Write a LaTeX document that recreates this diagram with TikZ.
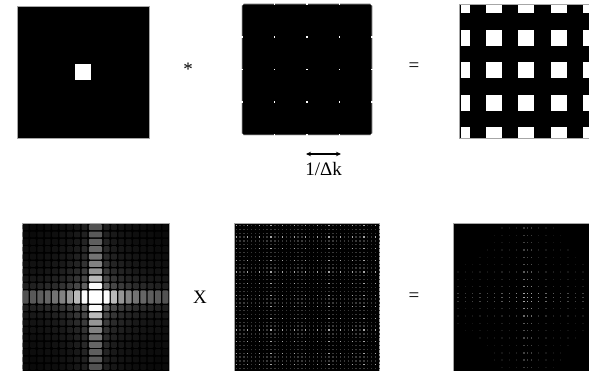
\documentclass[tikz,border=0pt]{standalone}
\usepackage{fontspec}
\setmainfont{Liberation Serif}
\usepackage{tikz}
\usetikzlibrary{arrows.meta, positioning}
\usepackage{xcolor}

\begin{document}
\begin{tikzpicture}[x=1pt, y=-1pt,
    panel/.style={draw=gray!70, line width=0.6pt, fill=black, rectangle, inner sep=0pt, outer sep=0pt},
    oper/.style={font=\fontsize{19}{21}\selectfont, inner sep=0pt},
    spot/.style={fill=white, inner sep=0pt, minimum size=1.8pt, rectangle}]
  \useasboundingbox (0,0) rectangle (589,371);

  % Box A (top left): a single square
  \node[panel, minimum width=132pt, minimum height=132pt] (sq) at (83,72) {};
  \node[fill=white, inner sep=0pt, minimum size=16pt] (hole) at (sq.center) {};

  % Box B (top middle): comb of delta points
  \node[panel, rounded corners=2pt, minimum width=130pt, minimum height=131pt] (comb) at (307,69.5) {};
  \foreach \m in {0,...,4}
    \foreach \n in {0,...,4}
      \node[spot] (c\m\n) at (242+32.5*\m, 4+32.75*\n) {};

  % spacing arrow under the comb
  \coordinate (dkL) at (306,154);
  \coordinate (dkR) at (341,154);
  \draw[{Stealth[length=5pt,width=4.5pt]}-{Stealth[length=5pt,width=4.5pt]}, line width=1.2pt] (dkL) -- (dkR);
  \node[oper, below=8pt of dkL, xshift=17.5pt] (dk) {1/Δk};

  % Box C (top right): squares repeated on the comb
  \node[panel, minimum width=132pt, minimum height=134pt, anchor=north west] (rep) at (459.5,4) {};
  \begin{scope}
    \clip (461,5.5) rectangle (590,137.5);
    \foreach \m in {0,...,4}
      \foreach \n in {0,...,4}
        \fill[white] (453.5+32.4*\m,-2.5+32.5*\n) rectangle ++(16,16);
  \end{scope}

  % operators, top row
  \node[oper] (conv) at (188,69) {*};
  \node[oper] (eq1) at (414,67) {=};

  % Box D (bottom left): sinc lobes of the square
  \node[panel, minimum width=147pt, minimum height=148pt, anchor=north west] (sinc) at (22,223) {};
  \foreach \i in {-9,...,9} {
    \foreach \j in {-9,...,9} {
      \pgfmathsetmacro\ai{ifthenelse(\i==0,1,1/(pi*(abs(\i)+0.5)))}
      \pgfmathsetmacro\aj{ifthenelse(\j==0,1,1/(pi*(abs(\j)+0.5)))}
      \pgfmathtruncatemacro\lv{100*min(1,2.5*(\ai*\aj)^0.6)}
      \pgfmathsetmacro\cx{95.5+(abs(\i)+0.5)*7.35*\i/max(abs(\i),1)}
      \pgfmathsetmacro\cy{297+(abs(\j)+0.5)*7.35*\j/max(abs(\j),1)}
      \pgfmathsetmacro\hx{ifthenelse(\i==0,7.35,3.675)-0.7}
      \pgfmathsetmacro\hy{ifthenelse(\j==0,7.35,3.675)-0.7}
      \ifnum\lv>2
        \fill[white!\lv!black, rounded corners=1pt] (\cx-\hx,\cy-\hy) rectangle (\cx+\hx,\cy+\hy);
      \fi
    }
  }

  % Box E (bottom middle): lattice of sample points
  \node[panel, minimum width=145pt, minimum height=148pt, anchor=north west] (lat) at (234,223) {};
  \foreach \k in {0,...,37}
    \draw[white!22!black, line width=1.3pt, dash pattern=on 1.3pt off 2.57pt] (235.5,225.5+3.87*\k) -- (379,225.5+3.87*\k);
  \foreach \k in {0,3,...,36}
    \draw[white!65!black, line width=1.3pt, dash pattern=on 1.3pt off 10.31pt] (235.5,225.5+3.87*\k) -- (379,225.5+3.87*\k);

  % Box F (bottom right): sampled lobes
  \node[panel, minimum width=150pt, minimum height=148pt, anchor=north west] (samp) at (453,223) {};
  \begin{scope}
    \clip (454,224) rectangle (590,371);
    \foreach \i in {-9,...,9} {
      \foreach \j in {-9,...,9} {
        \pgfmathsetmacro\ai{ifthenelse(\i==0,1,1/(pi*(abs(\i)+0.5)))}
        \pgfmathsetmacro\aj{ifthenelse(\j==0,1,1/(pi*(abs(\j)+0.5)))}
        \pgfmathtruncatemacro\lv{65*min(1,1.6*(\ai*\aj)^0.45)}
        \pgfmathsetmacro\cx{527.7+(abs(\i)+0.5)*7.35*\i/max(abs(\i),1)}
        \pgfmathsetmacro\cy{297.7+(abs(\j)+0.5)*7.35*\j/max(abs(\j),1)}
        \ifnum\i=0 \def\dxs{-3.9,0,3.9}\else\def\dxs{0}\fi
        \ifnum\j=0 \def\dys{-3.9,0,3.9}\else\def\dys{0}\fi
        \ifnum\lv>6
          \foreach \dx in \dxs
            \foreach \dy in \dys
              \fill[white!\lv!black] (\cx+\dx-0.7,\cy+\dy-0.7) rectangle ++(1.4,1.4);
        \fi
      }
    }
  \end{scope}

  % operators, bottom row
  \node[oper] (times) at (200,297) {X};
  \node[oper] (eq2) at (414,297) {=};
\end{tikzpicture}
\end{document}
